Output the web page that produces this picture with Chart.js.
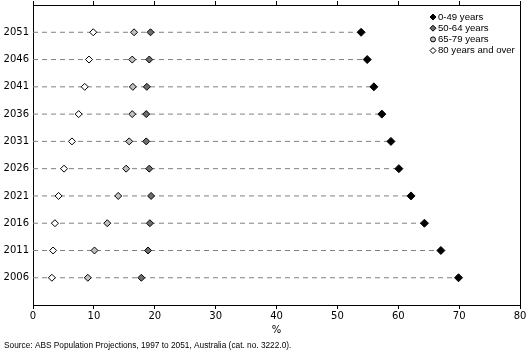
<!DOCTYPE html>
<html><head><meta charset="utf-8">
<script src="https://cdn.jsdelivr.net/npm/chart.js@4/dist/chart.umd.min.js"></script>
<style>html,body{margin:0;padding:0;background:#fff}#wrap{width:529px;height:359px;position:relative}</style>
</head><body><div id="wrap"><canvas id="c" width="529" height="359"></canvas></div>
<script>
const years = [2006, 2011, 2016, 2021, 2026, 2031, 2036, 2041, 2046, 2051];
const age0to49 = [69.9, 67.0, 64.3, 62.1, 60.1, 58.8, 57.3, 56.0, 54.9, 53.9];
const age50to64 = [17.8, 18.9, 19.2, 19.4, 19.1, 18.6, 18.6, 18.7, 19.1, 19.3];
const age65to79 = [9.0, 10.1, 12.2, 14.0, 15.3, 15.8, 16.3, 16.4, 16.3, 16.6];
const age80plus = [3.1, 3.3, 3.6, 4.2, 5.1, 6.4, 7.5, 8.5, 9.2, 9.9];
const seriesLabels = ['0-49 years', '50-64 years', '65-79 years', '80 years and over'];
const xTicks = [0, 10, 20, 30, 40, 50, 60, 70, 80];
const xTitle = '%';
const sourceNote = 'Source: ABS Population Projections, 1997 to 2051, Australia (cat. no. 3222.0).';

const TICK_FONT = {family: 'DejaVu Sans', size: 10};
const NARROW = "'Liberation Sans Narrow', 'Liberation Sans', Arial, sans-serif";
const LEGEND_FONT = "9.6px " + NARROW;

function pts(vals) { return years.map((y, i) => ({x: vals[i], y: y})); }

// guide lines from axis to the 0-49 value, broken between rows
const guide = [];
years.forEach((y, i) => {
  guide.push({x: 0, y: y});
  guide.push({x: age0to49[i], y: y});
  guide.push({x: 0, y: null});
});

const seriesStyle = [
  {fill: '#000000', r: 4, legendStyle: 'rectRot'},
  {fill: '#6e6e6e', r: 3.5, legendStyle: 'rectRot'},
  {fill: '#c0c0c0', r: 3.5, legendStyle: 'circle'},
  {fill: '#ffffff', r: 3.5, legendStyle: 'rectRot'}
];
const seriesVals = [age0to49, age50to64, age65to79, age80plus];

const datasets = [{
  label: '_guide',
  data: guide,
  showLine: true,
  spanGaps: false,
  borderColor: '#808080',
  borderWidth: 1,
  borderDash: [5, 4],
  pointRadius: 0,
  pointHoverRadius: 0,
  order: 10
}];
seriesLabels.forEach((lab, k) => {
  datasets.push({
    label: lab,
    data: pts(seriesVals[k]),
    showLine: false,
    pointStyle: 'rectRot',
    pointRadius: seriesStyle[k].r,
    pointBackgroundColor: seriesStyle[k].fill,
    pointBorderColor: '#000000',
    pointBorderWidth: 1,
    order: 1
  });
});

const legendPlugin = {
  id: 'customLegend',
  afterDatasetsDraw(chart) {
    const ctx = chart.ctx;
    ctx.save();
    ctx.font = LEGEND_FONT;
    ctx.textBaseline = 'middle';
    ctx.textAlign = 'left';
    const x0 = 433, y0 = 17, dy = 11.2;
    seriesLabels.forEach((lab, k) => {
      const y = y0 + k * dy;
      ctx.fillStyle = seriesStyle[k].fill;
      ctx.strokeStyle = '#000';
      ctx.lineWidth = 1;
      ctx.beginPath();
      if (seriesStyle[k].legendStyle === 'circle') {
        ctx.arc(x0, y, 2.5, 0, Math.PI * 2);
      } else {
        ctx.moveTo(x0, y - 3); ctx.lineTo(x0 + 3, y); ctx.lineTo(x0, y + 3); ctx.lineTo(x0 - 3, y); ctx.closePath();
      }
      ctx.fill(); ctx.stroke();
      ctx.fillStyle = '#000';
      ctx.fillText(lab, x0 + 5, y);
    });
    ctx.restore();
  }
};

new Chart(document.getElementById('c'), {
  type: 'scatter',
  data: {datasets},
  plugins: [legendPlugin],
  options: {
    responsive: false,
    animation: false,
    events: [],
    layout: {padding: {left: 4, right: 9, top: 0, bottom: 0}},
    plugins: {
      legend: {display: false},
      tooltip: {enabled: false},
      title: {
        display: true,
        position: 'bottom',
        align: 'start',
        text: sourceNote,
        color: '#000',
        font: {family: NARROW, size: 8.3, weight: 'normal', lineHeight: 1.2},
        padding: {top: 2, bottom: 8}
      }
    },
    scales: {
      x: {
        type: 'linear', position: 'bottom', min: 0, max: 80,
        afterBuildTicks: s => { s.ticks = xTicks.map(v => ({value: v})); },
        afterFit: s => { s.height = 34; s.paddingLeft = 0; s.paddingRight = 0; },
        ticks: {color: '#000', font: TICK_FONT, padding: 1, maxRotation: 0, autoSkip: false},
        grid: {drawOnChartArea: false, drawTicks: true, tickLength: 4, color: '#000', lineWidth: 1},
        border: {display: true, color: '#000', width: 1},
        title: {display: true, text: xTitle, color: '#000', font: TICK_FONT, padding: {top: 0, bottom: 3}}
      },
      x2: {
        type: 'linear', position: 'top', min: 0, max: 80,
        afterBuildTicks: s => { s.ticks = xTicks.map(v => ({value: v})); },
        afterFit: s => { s.height = 4; s.paddingLeft = 0; s.paddingRight = 0; },
        ticks: {display: false},
        grid: {drawOnChartArea: false, drawTicks: true, tickLength: 4, color: '#000', lineWidth: 1},
        border: {display: true, color: '#000', width: 1}
      },
      y: {
        type: 'linear', position: 'left', min: 2001, max: 2056,
        afterBuildTicks: s => { s.ticks = years.map(v => ({value: v})); },
        afterFit: s => { s.width = 29; s.paddingTop = 0; s.paddingBottom = 0; },
        ticks: {color: '#000', font: TICK_FONT, padding: 4, callback: v => String(v)},
        grid: {drawOnChartArea: false, drawTicks: false},
        border: {display: true, color: '#000', width: 1}
      },
      y2: {
        type: 'linear', position: 'right', min: 2001, max: 2056,
        afterFit: s => { s.width = 0; s.paddingTop = 0; s.paddingBottom = 0; },
        ticks: {display: false},
        grid: {drawOnChartArea: false, drawTicks: false},
        border: {display: true, color: '#000', width: 1}
      }
    }
  }
});
</script>
</body></html>
